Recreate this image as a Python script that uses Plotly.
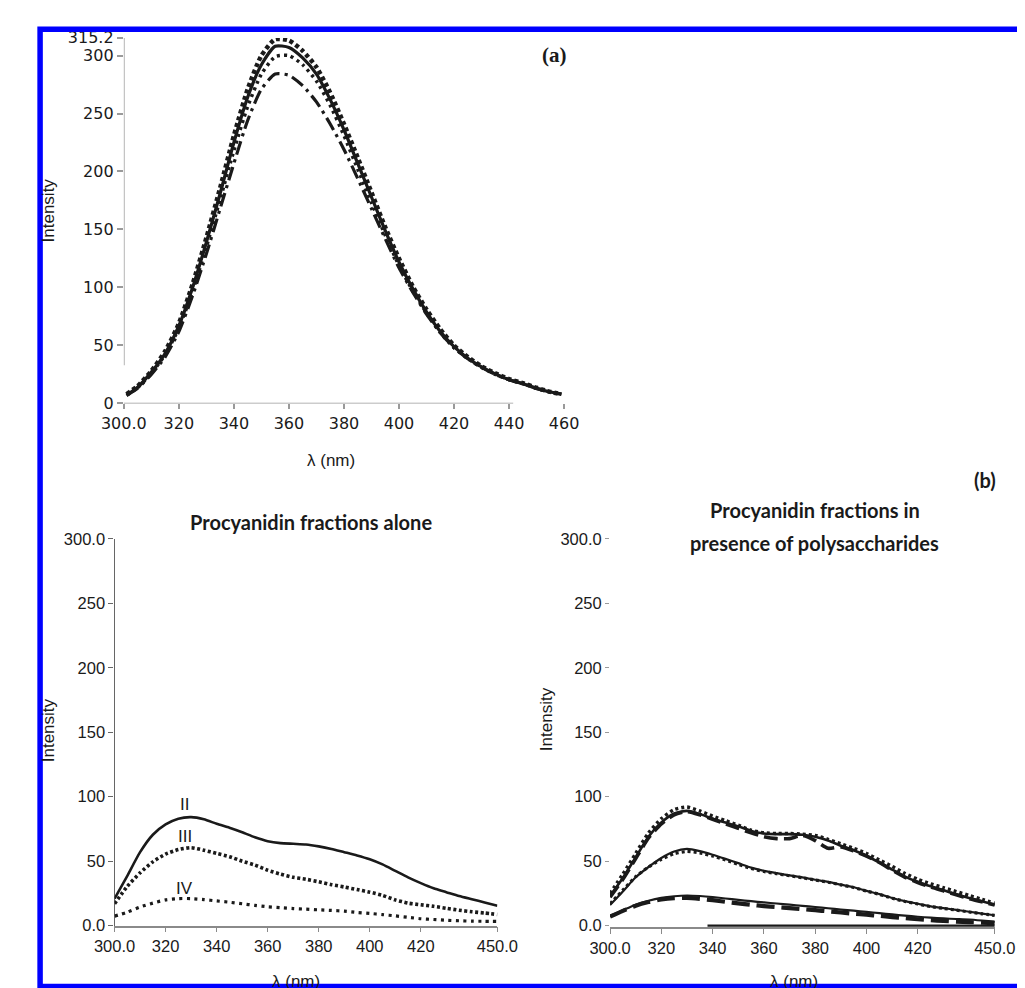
import plotly.graph_objects as go

# ---------------- Panel (a) data ----------------
wl_a = [301, 305, 310, 315, 320, 325, 330, 335, 340, 345, 350, 355, 360, 365, 370, 375, 380,
        385, 390, 395, 400, 405, 410, 415, 420, 425, 430, 435, 440, 445, 450, 455, 459]
a_sq = [8, 15, 28, 45, 69, 103, 143, 186, 231, 271, 300, 314, 313, 304, 290, 268, 241,
        212, 182, 152, 125, 101, 81, 64, 50, 40, 32, 26, 21, 17.5, 13.5, 10, 8]
a_solid = [7, 14, 27, 43, 67, 100, 139, 181, 225, 264, 292, 308, 307, 298, 284, 262, 236,
           207, 178, 149, 122, 99, 79, 62, 49, 39, 31.5, 25.5, 20.5, 17, 13, 9.8, 8]
a_dot = [7, 13.5, 26, 42, 65, 97, 135, 176, 218, 256, 284, 299, 300, 292, 278, 257, 231,
         202, 173, 145, 119, 97, 78, 61, 48, 38.5, 31, 25, 20.5, 17, 13, 9.8, 8]
a_dashdot = [7, 13, 25, 40, 62, 93, 129, 168, 207, 244, 271, 284, 283, 274, 260, 241, 219,
             194, 168, 142, 117, 96, 77, 61, 48, 38.5, 31, 25, 20.5, 17, 13, 9.8, 8]

a_xticks = [300, 320, 340, 360, 380, 400, 420, 440, 460]
a_xtext = ["300.0", "320", "340", "360", "380", "400", "420", "440", "460"]
a_yticks = [0, 50, 100, 150, 200, 250, 300, 315.2]
a_ytext = ["0", "50", "100", "150", "200", "250", "300", "315.2"]

# ---------------- Panel (b) data ----------------
wl_b = [300, 305, 310, 315, 320, 325, 330, 335, 340, 345, 350, 355, 360, 365, 370, 375,
        380, 385, 390, 395, 400, 405, 410, 415, 420, 425, 430, 435, 440, 445, 450]

# Procyanidin fractions alone
alone_II = [21, 38.7, 57, 70.5, 78.5, 83, 84.2, 82.5, 79, 76, 72.5, 68.5, 65.5, 64, 63.5, 63,
            61.5, 59.5, 57, 54.5, 51.5, 47.5, 42.5, 37.5, 33, 29, 26, 23, 20.5, 18, 15.5]
alone_III = [17, 30.5, 41, 49.5, 55.5, 59, 60.5, 58.5, 56, 53.5, 50, 47, 43, 40, 37.5, 36,
             34, 31.8, 30, 28, 26, 23.5, 20, 17.5, 16.2, 15, 13.5, 12, 10.8, 9.8, 8.7]
alone_IV = [7.4, 10.5, 14.5, 17.5, 20, 21, 21, 20.2, 19.2, 18.2, 17, 15.8, 14.7, 14, 13.3, 12.8,
            12.3, 11.8, 11.3, 10.3, 9.5, 8.6, 7.6, 6.5, 5.4, 4.8, 4.2, 3.8, 3.5, 3.4, 3.3]
alone_labels = ["II", "III", "IV"]
alone_label_x = [327.5, 327.5, 327.5]
alone_label_y = [94, 69, 29]

# Procyanidin fractions in presence of polysaccharides
poly_top_solid = [23, 37, 53, 69, 80, 87, 89, 86.5, 83, 80, 77, 73.5, 71.5, 71, 71, 70.5,
                  69, 66, 62, 58.5, 54, 49, 43.5, 38, 33.8, 30.5, 27.5, 24.3, 21.5, 19, 16.2]
poly_top_dot = [25, 40, 56, 72, 83, 90, 92, 89, 85, 81.5, 78, 74, 72, 71.5, 71.5, 71,
                70, 67, 63.5, 60, 56, 51, 46, 40.5, 36, 32.5, 29.5, 26.5, 23.5, 20.5, 17.5]
poly_top_dash = [22, 36, 52, 68, 79, 86, 88.5, 86, 82.5, 79, 75.5, 72, 69, 67.5, 67.5, 70,
                 66, 60, 61, 58, 54, 49, 43, 37.5, 33.5, 30, 27, 24, 21, 18.5, 16]
poly_mid_solid = [16, 26.5, 37.5, 45.5, 52.5, 57.5, 59.5, 57.8, 55, 51.8, 48.5, 45, 42.5, 40.7, 39, 37.4,
                  35.6, 34, 31.8, 29.8, 27, 24.5, 21.5, 19, 17, 15, 13.6, 12.3, 10.8, 9.4, 8.1]
poly_mid_dot = [17, 27.5, 38, 45.5, 51.5, 55.8, 57.5, 56.5, 54, 51, 47.5, 44.3, 42, 40.3, 38.7, 37.2,
                35.4, 33.7, 31.6, 29.6, 26.8, 24.3, 21.3, 18.8, 16.8, 14.8, 13.4, 12.1, 10.6, 9.2, 8]
poly_low_solid = [7.5, 12, 16.3, 19.3, 21.5, 22.8, 23.4, 23, 22.2, 21.1, 20, 19, 18, 17.2, 16.3, 15.4,
                  14.5, 13.5, 12.5, 11.6, 10.7, 9.7, 8.7, 7.8, 6.9, 6.2, 5.6, 5.2, 4.8, 4, 3.1]
poly_low_dash = [7, 11.5, 15.5, 18.3, 20.3, 21.3, 21.5, 20.8, 19.8, 18.5, 17.3, 16.2, 15.2, 14.4, 13.6, 12.8,
                 12, 11.1, 10.2, 9.3, 8.5, 7.6, 6.7, 5.8, 5, 4.3, 3.7, 3.2, 2.8, 2.4, 2]
poly_base_x = [338, 450]
poly_base_y = [0, 0]

b_xticks = [300, 320, 340, 360, 380, 400, 420, 450]
b_xtext = ["300.0", "320", "340", "360", "380", "400", "420", "450.0"]
b_yticks = [0, 50, 100, 150, 200, 250, 300]
b_ytext = ["0.0", "50", "100", "150", "200", "250", "300.0"]

# ---------------- Figure ----------------
W, H = 1025, 988
INK = "#1a1a1a"
ARIAL = "Liberation Sans, Arial, sans-serif"
FONT_A = dict(family="DejaVu Sans, Liberation Sans, sans-serif", size=16, color=INK)
FONT_B = dict(family=ARIAL, size=16.5, color=INK)
YB = 1.315  # px per intensity unit in panel (b)


def px(x):
    return x / W


def py(y):
    return 1 - y / H


fig = go.Figure()


def line(x, y, xa, ya, width, dash="solid", shape="spline"):
    fig.add_trace(go.Scatter(x=x, y=y, xaxis=xa, yaxis=ya, mode="lines",
                             line=dict(color=INK, width=width, dash=dash, shape=shape, smoothing=0.6),
                             showlegend=False, hoverinfo="skip"))


# panel (a)
line(wl_a, a_sq, "x", "y", 4.5, "4px,3px")
line(wl_a, a_solid, "x", "y", 3.2)
line(wl_a, a_dot, "x", "y", 3.5, "3px,4px")
line(wl_a, a_dashdot, "x", "y", 3.2, "14px,5px,3px,5px")

# panel (b) left
line(wl_b, alone_II, "x2", "y2", 2.6)
line(wl_b, alone_III, "x2", "y2", 3.6, "3px,2.5px")
line(wl_b, alone_IV, "x2", "y2", 3.2, "3px,4.5px")

# panel (b) right
line(wl_b, poly_top_solid, "x3", "y3", 2.6)
line(wl_b, poly_top_dot, "x3", "y3", 3.4, "3px,3px")
line(wl_b, poly_top_dash, "x3", "y3", 3.6, "14px,6px")
line(wl_b, poly_mid_solid, "x3", "y3", 2.2)
line(wl_b, poly_mid_dot, "x3", "y3", 3.2, "3px,3px")
line(wl_b, poly_low_solid, "x3", "y3", 2.2)
line(wl_b, poly_low_dash, "x3", "y3", 4.2, "18px,7px")
line(poly_base_x, poly_base_y, "x3", "y3", 2.2, "solid", "linear")

axis_common = dict(showgrid=False, zeroline=False, ticks="outside",
                   tickmode="array", fixedrange=True, layer="below traces")

fig.update_layout(
    width=W, height=H, margin=dict(l=0, r=0, t=0, b=0),
    paper_bgcolor="white", plot_bgcolor="rgba(0,0,0,0)",
    xaxis=dict(axis_common, domain=[px(97), px(557)], range=[300, 460], anchor="y",
               tickvals=a_xticks, ticktext=a_xtext, showline=False, ticklen=5,
               tickcolor="#9a9a9a", tickwidth=1.5, tickfont=FONT_A),
    yaxis=dict(axis_common, domain=[py(394), py(21.3)], range=[0, 315.2], anchor="x",
               tickvals=a_yticks, ticktext=a_ytext, showline=False, ticklen=6,
               tickcolor="#9a9a9a", tickwidth=1.5, tickfont=FONT_A),
    xaxis2=dict(axis_common, domain=[px(87.3), px(487.3)], range=[300, 450], anchor="y2",
                tickvals=b_xticks, ticktext=b_xtext, showline=True, linecolor="#8a8a8a",
                linewidth=1.5, ticklen=5, tickcolor="#8a8a8a", tickfont=FONT_B),
    yaxis2=dict(axis_common, domain=[py(926.5), py(532)], range=[0, 300], anchor="x2",
                tickvals=b_yticks, ticktext=b_ytext, showline=True, linecolor="#666666",
                linewidth=1.2, ticklen=5, tickcolor="#666666", tickfont=FONT_B),
    xaxis3=dict(axis_common, domain=[px(605), px(1007)], range=[300, 450], anchor="y3",
                tickvals=b_xticks, ticktext=b_xtext, showline=True, linecolor="#8a8a8a",
                linewidth=1.5, ticklen=5, tickcolor="#8a8a8a", tickfont=FONT_B),
    yaxis3=dict(axis_common, domain=[py(926.5 + 1.2 * YB), py(532)], range=[-1.2, 300], anchor="x3",
                tickvals=b_yticks, ticktext=b_ytext, showline=False, ticklen=4,
                tickcolor="#9a9a9a", tickfont=FONT_B),
)

# broken axis lines of panel (a), in axis units
fig.add_shape(type="line", xref="x", yref="y", x0=300, x1=300, y0=33, y1=315.2,
              line=dict(color="#9a9a9a", width=1.5), layer="below")
fig.add_shape(type="line", xref="x", yref="y", x0=295.6, x1=441.5, y0=0, y1=0,
              line=dict(color="#9a9a9a", width=1.5), layer="below")

# blue frame
fig.add_shape(type="rect", xref="paper", yref="paper", x0=px(9.5), x1=px(1040), y0=py(988.5), y1=py(12.5),
              line=dict(color="#0000ff", width=5.5), layer="above")

ann = []


def text(x, y, s, size=17, family=ARIAL, angle=0, bold=False):
    ann.append(dict(x=px(x), y=py(y), xref="paper", yref="paper", text=("<b>%s</b>" % s) if bold else s,
                    showarrow=False, xanchor="center", yanchor="middle", textangle=angle,
                    font=dict(family=family, size=size, color=INK)))


text(547, 39, "(a)", size=21, family="Liberation Serif, Times New Roman, serif", bold=True)
text(313, 452, "λ (nm)", size=17)
text(18, 197, "Intensity", size=17, angle=-90)

text(293, 515, "Procyanidin fractions alone", size=20, family="Lato, sans-serif", bold=True)
text(819, 503, "Procyanidin fractions in", size=20, family="Lato, sans-serif", bold=True)
text(819, 536, "presence of polysaccharides", size=20, family="Lato, sans-serif", bold=True)
text(997, 472, "(b)", size=20, family="Lato, sans-serif", bold=True)
text(18, 727, "Intensity", size=17, angle=-90)
text(538, 716, "Intensity", size=17, angle=-90)
text(277, 983, "λ (nm)", size=17)
text(797, 983, "λ (nm)", size=17)

for lab, lx, ly in zip(alone_labels, alone_label_x, alone_label_y):
    ann.append(dict(x=lx, y=ly, xref="x2", yref="y2", text=lab, showarrow=False,
                    xanchor="center", yanchor="middle",
                    font=dict(family=ARIAL, size=17, color=INK)))

fig.update_layout(annotations=ann)

fig.write_html("out.html")
